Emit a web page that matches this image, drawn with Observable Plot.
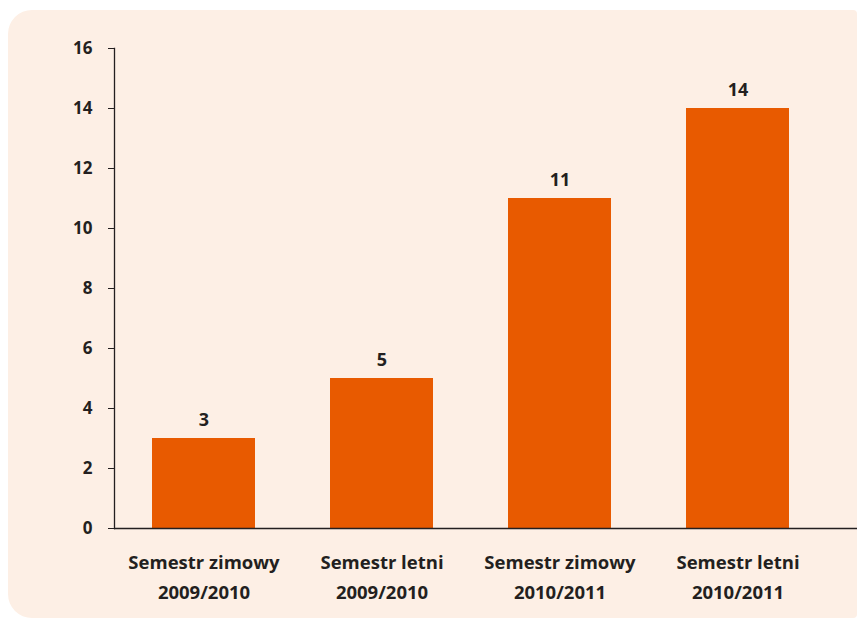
<!DOCTYPE html>
<html>
<head>
<meta charset="utf-8">
<script src="https://cdn.jsdelivr.net/npm/d3@7"></script>
<script src="https://cdn.jsdelivr.net/npm/@observablehq/plot@0.6"></script>
<style>
  html, body { margin: 0; padding: 0; background: #ffffff; }
  #wrap { position: relative; width: 859px; height: 619px; overflow: hidden; }
  #panel { position: absolute; left: 8px; top: 10px; width: 849px; height: 608px;
           background: #fdefe5; border-radius: 24px 4px 4px 24px; }
  #chart { position: absolute; left: 0; top: 0; }
  #chart svg { overflow: visible; }
</style>
</head>
<body>
<div id="wrap"><div id="panel"></div><div id="chart"></div></div>
<script>
const semesters = ["Semestr zimowy\n2009/2010", "Semestr letni\n2009/2010", "Semestr zimowy\n2010/2011", "Semestr letni\n2010/2011"];
const counts = [3, 5, 11, 14];
const yTicks = [0, 2, 4, 6, 8, 10, 12, 14, 16];

const data = semesters.map((s, i) => ({semester: s, count: counts[i]}));
const font = "'Open Sans', 'Noto Sans', sans-serif";
const ink = "#231f20";

const plot = Plot.plot({
  width: 859,
  height: 619,
  marginLeft: 114,
  marginRight: 2,
  marginTop: 48,
  marginBottom: 91,
  style: {background: "transparent", fontFamily: font, color: ink},
  x: {domain: semesters, paddingInner: 0.423, paddingOuter: 0.2955, align: 0.36, axis: null},
  y: {domain: [0, 16], ticks: yTicks, axis: null},
  marks: [
    Plot.barY(data, {x: "semester", y: "count", fill: "#e85a00"}),
    Plot.ruleY([0], {stroke: ink, strokeWidth: 1.3}),
    Plot.frame({anchor: "left", stroke: ink, strokeWidth: 1.3}),
    Plot.axisY({
      ticks: yTicks, tickSize: 6, tickPadding: 16, stroke: ink, fill: ink, label: null,
      fontSize: 17, fontWeight: 700, tickFormat: d => String(d)
    }),
    Plot.text(data, {
      x: "semester", y: "count", text: d => String(d.count), dy: -18,
      fontSize: 18, fontWeight: 700, fill: ink, fontFamily: font
    }),
    Plot.text(data, {
      x: "semester", y: 0, text: "semester", dy: 19, lineAnchor: "top", lineHeight: 1.62,
      fontSize: 18.5, fontWeight: 700, fill: ink, fontFamily: font
    })
  ]
});
document.getElementById("chart").appendChild(plot);
</script>
</body>
</html>
